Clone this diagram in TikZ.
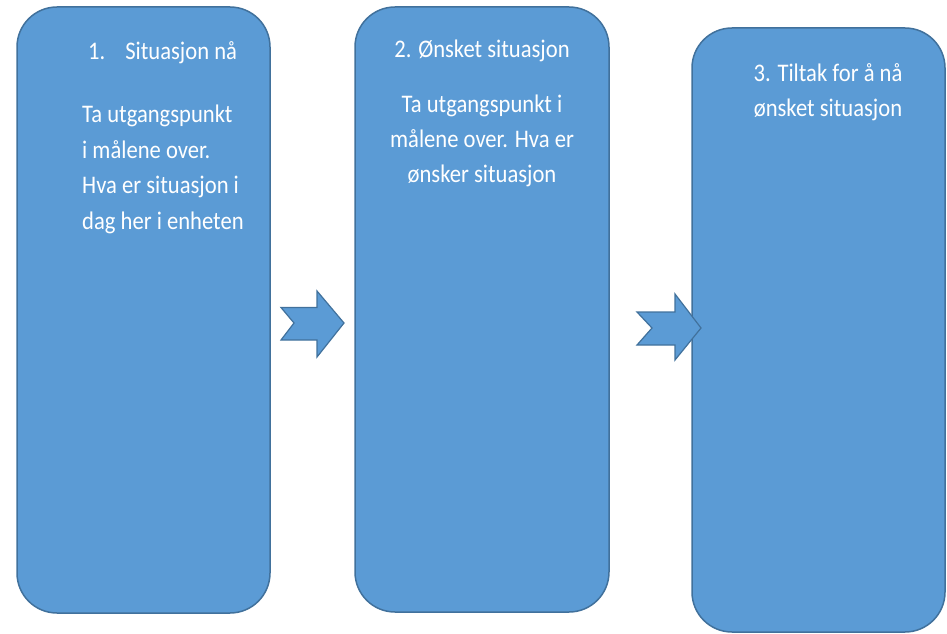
\documentclass[tikz,border=0pt]{standalone}
\usepackage{fontspec}
\setmainfont{Carlito}
\definecolor{boxfill}{HTML}{5B9BD5}
\definecolor{boxline}{HTML}{41719C}
\begin{document}
\begin{tikzpicture}[x=1pt,y=1pt,
  panel/.style={draw=boxline, fill=boxfill, line width=1.5pt, rounded corners=40pt},
  chevron/.style={draw=boxline, fill=boxfill, line width=1.2pt, line join=miter},
  txt/.style={text=white, inner sep=0pt, font=\fontsize{22.6}{31.6}\selectfont, yscale=1.12}]
\useasboundingbox (0,0) rectangle (947,633);
% panels
\draw[panel] (17,20) rectangle (270,626);
\draw[panel] (355,21) rectangle (609,626);
\draw[panel] (692,1) rectangle (945,605);
% notched arrows
\draw[chevron] (281,325.5) -- (317,325.5) -- (317,342) -- (344,310) -- (317,276) -- (317,293) -- (281,293) -- (294,310) -- cycle;
\draw[chevron] (637,321) -- (675,321) -- (675,339) -- (701,305) -- (675,273) -- (675,288) -- (637,288) -- (652,305) -- cycle;
% texts (base anchor = last line's baseline)
\node[txt, anchor=base west] (t1) at (88,573) {1.\hspace{20pt}Situasjon nå};
\node[txt, anchor=base west, align=left] (b1) at (82,404) {Ta utgangspunkt\\i målene over.\\Hva er situasjon i\\dag her i enheten};
\node[txt, anchor=base] (t2) at (482,575) {2. Ønsket situasjon};
\node[txt, anchor=base, align=center] (b2) at (482,450) {Ta utgangspunkt i\\målene over. Hva er\\ønsker situasjon};
\node[txt, anchor=base, align=center] (t3) at (828,516) {3. Tiltak for å nå\\ønsket situasjon};
\end{tikzpicture}
\end{document}
